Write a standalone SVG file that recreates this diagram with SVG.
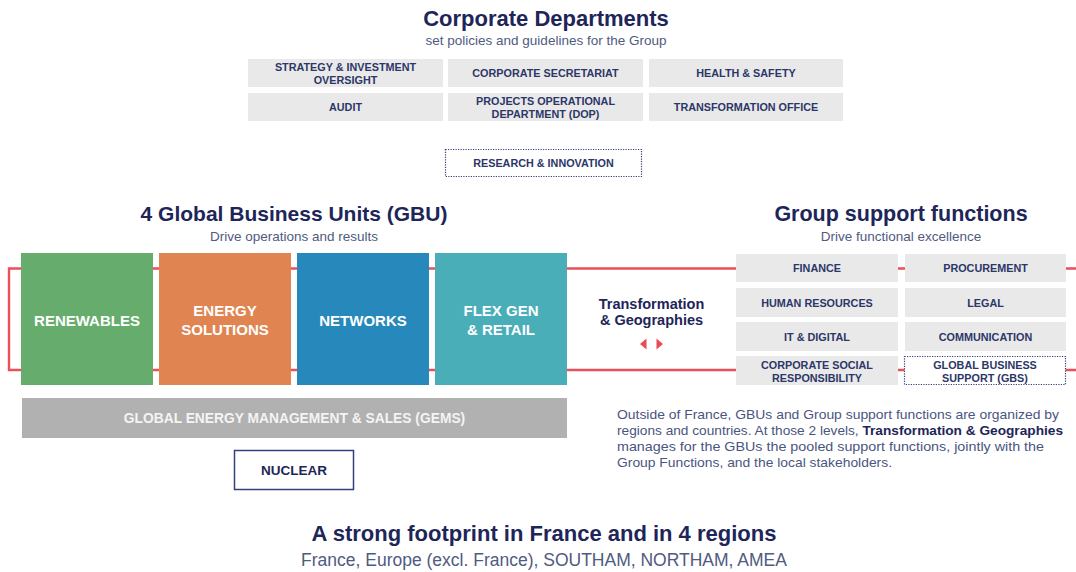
<svg xmlns="http://www.w3.org/2000/svg" width="1076" height="572" viewBox="0 0 1076 572">
<style>
text{font-family:"Liberation Sans",Arial,sans-serif}
.h{font-weight:bold;fill:#1d2559;text-anchor:middle}
.sub{fill:#4f5b80;text-anchor:middle;font-size:13.5px}
.box{fill:#e9e9e9}
.bt{font-weight:bold;font-size:10.8px;fill:#2c3768;text-anchor:middle}
.dot{fill:#fff;stroke:#34407a;stroke-width:1.2;stroke-dasharray:1.2 1.3}
.gbu{font-weight:bold;font-size:15px;fill:#fff;text-anchor:middle}
.red{fill:none;stroke:#e9505a;stroke-width:2.4}
.para{font-size:13.5px;fill:#4a5580}
</style>

<!-- Connectors: red frame linking GBUs and group support functions -->
<g id="connectors">
<path class="red" d="M1076,268.5 H9 V370 H1076"/>
</g>

<!-- Corporate Departments -->
<g id="corporate-header">
<text class="h" x="546" y="26" font-size="22">Corporate Departments</text>
<text class="sub" x="546" y="45">set policies and guidelines for the Group</text>
</g>
<g id="strategy"><rect class="box" x="248" y="59" width="195" height="28"/><text class="bt" x="345.5" y="70.5">STRATEGY &amp; INVESTMENT</text><text class="bt" x="345.5" y="83.5">OVERSIGHT</text></g>
<g id="corp-secretariat"><rect class="box" x="448" y="59" width="195" height="28"/><text class="bt" x="545.5" y="77">CORPORATE SECRETARIAT</text></g>
<g id="health-safety"><rect class="box" x="649" y="59" width="194" height="28"/><text class="bt" x="746" y="77">HEALTH &amp; SAFETY</text></g>
<g id="audit"><rect class="box" x="248" y="93" width="195" height="28"/><text class="bt" x="345.5" y="111">AUDIT</text></g>
<g id="dop"><rect class="box" x="448" y="93" width="195" height="28"/><text class="bt" x="545.5" y="104.5">PROJECTS OPERATIONAL</text><text class="bt" x="545.5" y="117.5">DEPARTMENT (DOP)</text></g>
<g id="transformation-office"><rect class="box" x="649" y="93" width="194" height="28"/><text class="bt" x="746" y="111">TRANSFORMATION OFFICE</text></g>
<g id="research"><rect class="dot" x="445.5" y="149.5" width="196" height="27"/><text class="bt" x="543.5" y="167">RESEARCH &amp; INNOVATION</text></g>

<!-- GBUs -->
<g id="gbu-header">
<text class="h" x="294" y="220.5" font-size="21">4 Global Business Units (GBU)</text>
<text class="sub" x="294" y="240.5">Drive operations and results</text>
</g>
<g id="renewables"><rect x="21" y="253" width="132" height="132" fill="#66ad6d"/><text class="gbu" x="87" y="325.5">RENEWABLES</text></g>
<g id="energy-solutions"><rect x="159" y="253" width="132" height="132" fill="#e08552"/><text class="gbu" x="225" y="316">ENERGY</text><text class="gbu" x="225" y="334.5">SOLUTIONS</text></g>
<g id="networks"><rect x="297" y="253" width="132" height="132" fill="#2789bb"/><text class="gbu" x="363" y="325.5">NETWORKS</text></g>
<g id="flex-gen"><rect x="435" y="253" width="132" height="132" fill="#4aaeb9"/><text class="gbu" x="501" y="316">FLEX GEN</text><text class="gbu" x="501" y="334.5">&amp; RETAIL</text></g>
<g id="gems"><rect x="22" y="398" width="545" height="40" fill="#b1b1b1"/><text x="294.5" y="423" font-size="13.8" font-weight="bold" fill="#f4f4f4" text-anchor="middle">GLOBAL ENERGY MANAGEMENT &amp; SALES (GEMS)</text></g>
<g id="nuclear"><rect x="234.5" y="450.5" width="119" height="39" fill="#fff" stroke="#34407a" stroke-width="1.5"/><text x="294" y="475" font-size="13.5" font-weight="bold" fill="#1d2559" text-anchor="middle">NUCLEAR</text></g>

<!-- Transformation & Geographies -->
<g id="transformation-geographies">
<text x="651.5" y="308.5" font-size="14.5" font-weight="bold" fill="#1d2559" text-anchor="middle">Transformation</text>
<text x="651.5" y="325" font-size="14.5" font-weight="bold" fill="#1d2559" text-anchor="middle">&amp; Geographies</text>
<path d="M640,344 L646.5,338.5 V349.5 Z M663,344 L656.5,338.5 V349.5 Z" fill="#e84c56"/>
</g>

<!-- Group support functions -->
<g id="gsf-header">
<text class="h" x="901" y="220.5" font-size="21.5">Group support functions</text>
<text class="sub" x="901" y="240.5">Drive functional excellence</text>
</g>
<g id="finance"><rect class="box" x="736" y="254" width="162" height="28"/><text class="bt" x="817" y="272">FINANCE</text></g>
<g id="procurement"><rect class="box" x="905" y="254" width="161" height="28"/><text class="bt" x="985.5" y="272">PROCUREMENT</text></g>
<g id="human-resources"><rect class="box" x="736" y="288" width="162" height="29"/><text class="bt" x="817" y="306.5">HUMAN RESOURCES</text></g>
<g id="legal"><rect class="box" x="905" y="288" width="161" height="29"/><text class="bt" x="985.5" y="306.5">LEGAL</text></g>
<g id="it-digital"><rect class="box" x="736" y="322" width="162" height="29"/><text class="bt" x="817" y="340.5">IT &amp; DIGITAL</text></g>
<g id="communication"><rect class="box" x="905" y="322" width="161" height="29"/><text class="bt" x="985.5" y="340.5">COMMUNICATION</text></g>
<g id="csr"><rect class="box" x="736" y="356" width="162" height="29"/><text class="bt" x="817" y="369">CORPORATE SOCIAL</text><text class="bt" x="817" y="381.5">RESPONSIBILITY</text></g>
<g id="gbs"><rect class="dot" x="904.5" y="356.5" width="161" height="28"/><text class="bt" x="985" y="369">GLOBAL BUSINESS</text><text class="bt" x="985" y="381.5">SUPPORT (GBS)</text></g>

<!-- Note -->
<g id="note" class="para">
<text x="617" y="418.5" textLength="442" lengthAdjust="spacingAndGlyphs">Outside of France, GBUs and Group support functions are organized by</text>
<text x="617" y="434.5" textLength="446" lengthAdjust="spacingAndGlyphs">regions and countries. At those 2 levels, <tspan font-weight="bold" fill="#1d2559">Transformation &amp; Geographies</tspan></text>
<text x="617" y="450.5" textLength="427" lengthAdjust="spacingAndGlyphs">manages for the GBUs the pooled support functions, jointly with the</text>
<text x="617" y="466.5" textLength="275" lengthAdjust="spacingAndGlyphs">Group Functions, and the local stakeholders.</text>
</g>

<!-- Footer -->
<g id="footprint">
<text class="h" x="544" y="541" font-size="22">A strong footprint in France and in 4 regions</text>
<text x="544" y="566" font-size="17.5" fill="#4f5b80" text-anchor="middle">France, Europe (excl. France), SOUTHAM, NORTHAM, AMEA</text>
</g>
</svg>
